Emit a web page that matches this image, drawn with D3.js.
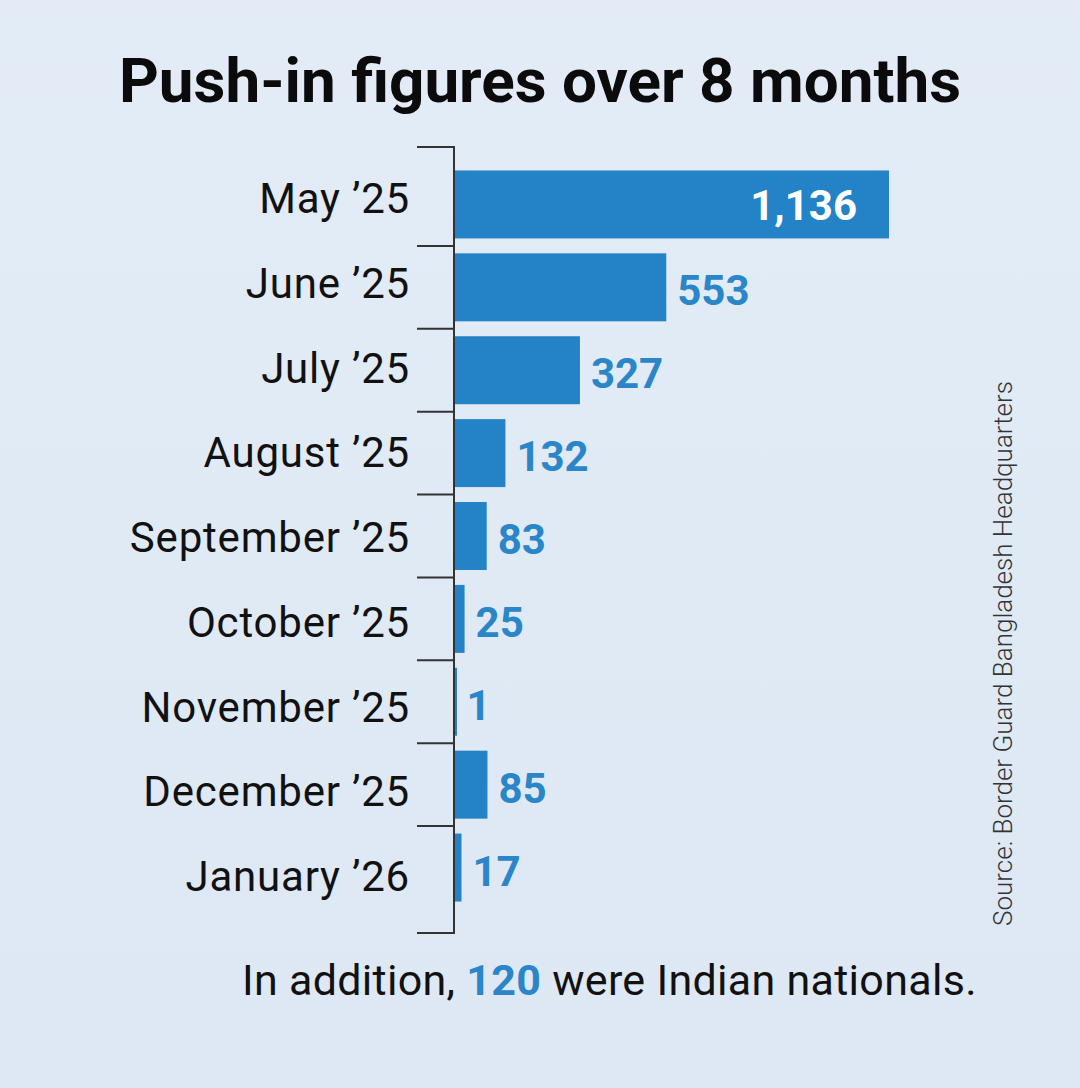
<!DOCTYPE html>
<html>
<head>
<meta charset="utf-8">
<script src="https://cdn.jsdelivr.net/npm/d3@7"></script>
<style>
  html, body { margin: 0; padding: 0; }
  body { width: 1080px; height: 1088px; overflow: hidden; }
  text { font-family: Roboto, "Noto Sans", sans-serif; }
</style>
</head>
<body>
<div id="app"></div>
<script>
// data
const months = ["May ’25", "June ’25", "July ’25", "August ’25", "September ’25",
  "October ’25", "November ’25", "December ’25", "January ’26"]
const pushIns = [1136, 553, 327, 132, 83, 25, 1, 85, 17]
const indianNationals = 120

const dataset = months.map((m, i) => ({ month: m, value: pushIns[i] }))
const yAccessor = d => d.month
const xAccessor = d => d.value

const dimensions = {
  width: 1080,
  height: 1088,
  axisX: 454,
  top: 163,
  bottom: 909,
}

const wrapper = d3.select("#app")
  .append("svg")
    .attr("width", dimensions.width)
    .attr("height", dimensions.height)

const defs = wrapper.append("defs")
const grad = defs.append("linearGradient")
    .attr("id", "bg")
    .attr("x1", 0).attr("y1", 0).attr("x2", 0).attr("y2", 1)
grad.append("stop").attr("offset", "0%").attr("stop-color", "#e3ecf6")
grad.append("stop").attr("offset", "100%").attr("stop-color", "#dde8f4")

wrapper.append("rect")
    .attr("width", dimensions.width)
    .attr("height", dimensions.height)
    .attr("fill", "url(#bg)")

// scales
const yScale = d3.scaleBand()
  .domain(months)
  .range([dimensions.top, dimensions.bottom])
  .paddingInner(0.18)
  .paddingOuter(0.09)

// month labels sit on a slightly wider spacing than the bars
const labelScale = d3.scalePoint()
  .domain(months)
  .range([213, 891])

const xScale = d3.scaleLinear()
  .domain([0, 1136])
  .range([dimensions.axisX + 1, 889])

// title
wrapper.append("text")
    .attr("x", 540)
    .attr("y", 102)
    .attr("text-anchor", "middle")
    .style("font-size", "62px")
    .style("font-weight", 700)
    .attr("fill", "#0b0b0b")
    .text("Push-in figures over 8 months")

// bars
const bounds = wrapper.append("g")

bounds.selectAll("rect.bar")
  .data(dataset)
  .join("rect")
    .attr("class", "bar")
    .attr("x", xScale(0))
    .attr("y", d => yScale(yAccessor(d)))
    .attr("width", d => Math.max(2, xScale(xAccessor(d)) - xScale(0)))
    .attr("height", yScale.bandwidth())
    .attr("fill", "#2383c6")

// value labels
const fmt = d3.format(",")
bounds.selectAll("text.value")
  .data(dataset)
  .join("text")
    .attr("class", "value")
    .attr("x", (d, i) => i === 0 ? xScale(xAccessor(d)) - 32 : xScale(xAccessor(d)) + 11)
    .attr("y", (d, i) => yScale(yAccessor(d)) + yScale.bandwidth() / 2 + (i === 0 ? 0 : 3))
    .attr("dy", "0.36em")
    .attr("text-anchor", (d, i) => i === 0 ? "end" : "start")
    .style("font-size", "42px")
    .style("font-weight", 700)
    .attr("fill", (d, i) => i === 0 ? "#ffffff" : "#2a86c8")
    .text(d => fmt(xAccessor(d)))

// month labels
const yAxis = wrapper.append("g")
    .attr("transform", `translate(${dimensions.axisX},0)`)

yAxis.selectAll("text.month")
  .data(months)
  .join("text")
    .attr("class", "month")
    .attr("x", -44)
    .attr("y", d => labelScale(d))
    .attr("text-anchor", "end")
    .style("font-size", "42px")
    .style("letter-spacing", "0.8px")
    .attr("fill", "#111")
    .text(d => d)

// separators between months
const step = yScale.step()
const edges = months.slice(1).map(m => yScale(m) - yScale.paddingInner() * step / 2)
edges.unshift(147)
edges.push(933)
yAxis.selectAll("line.sep")
  .data(edges)
  .join("line")
    .attr("class", "sep")
    .attr("x1", -37)
    .attr("x2", 0)
    .attr("y1", d => d)
    .attr("y2", d => d)
    .attr("stroke", "#333")
    .attr("stroke-width", 2)
yAxis.append("line")
    .attr("x1", 0).attr("x2", 0)
    .attr("y1", 146).attr("y2", 934)
    .attr("stroke", "#333")
    .attr("stroke-width", 2)

// footer
const footer = wrapper.append("text")
    .attr("x", 242)
    .attr("y", 995)
    .style("font-size", "43px")
    .style("letter-spacing", "0.3px")
    .attr("fill", "#111")
footer.append("tspan").text("In addition, ")
footer.append("tspan")
    .style("font-weight", 700)
    .attr("fill", "#2a86c8")
    .text(indianNationals)
footer.append("tspan").text(" were Indian nationals.")

// source
wrapper.append("text")
    .attr("transform", "translate(1012,926) rotate(-90)")
    .style("font-size", "26px")
    .style("font-weight", 300)
    .attr("fill", "#333")
    .text("Source: Border Guard Bangladesh Headquarters")
</script>
</body>
</html>
